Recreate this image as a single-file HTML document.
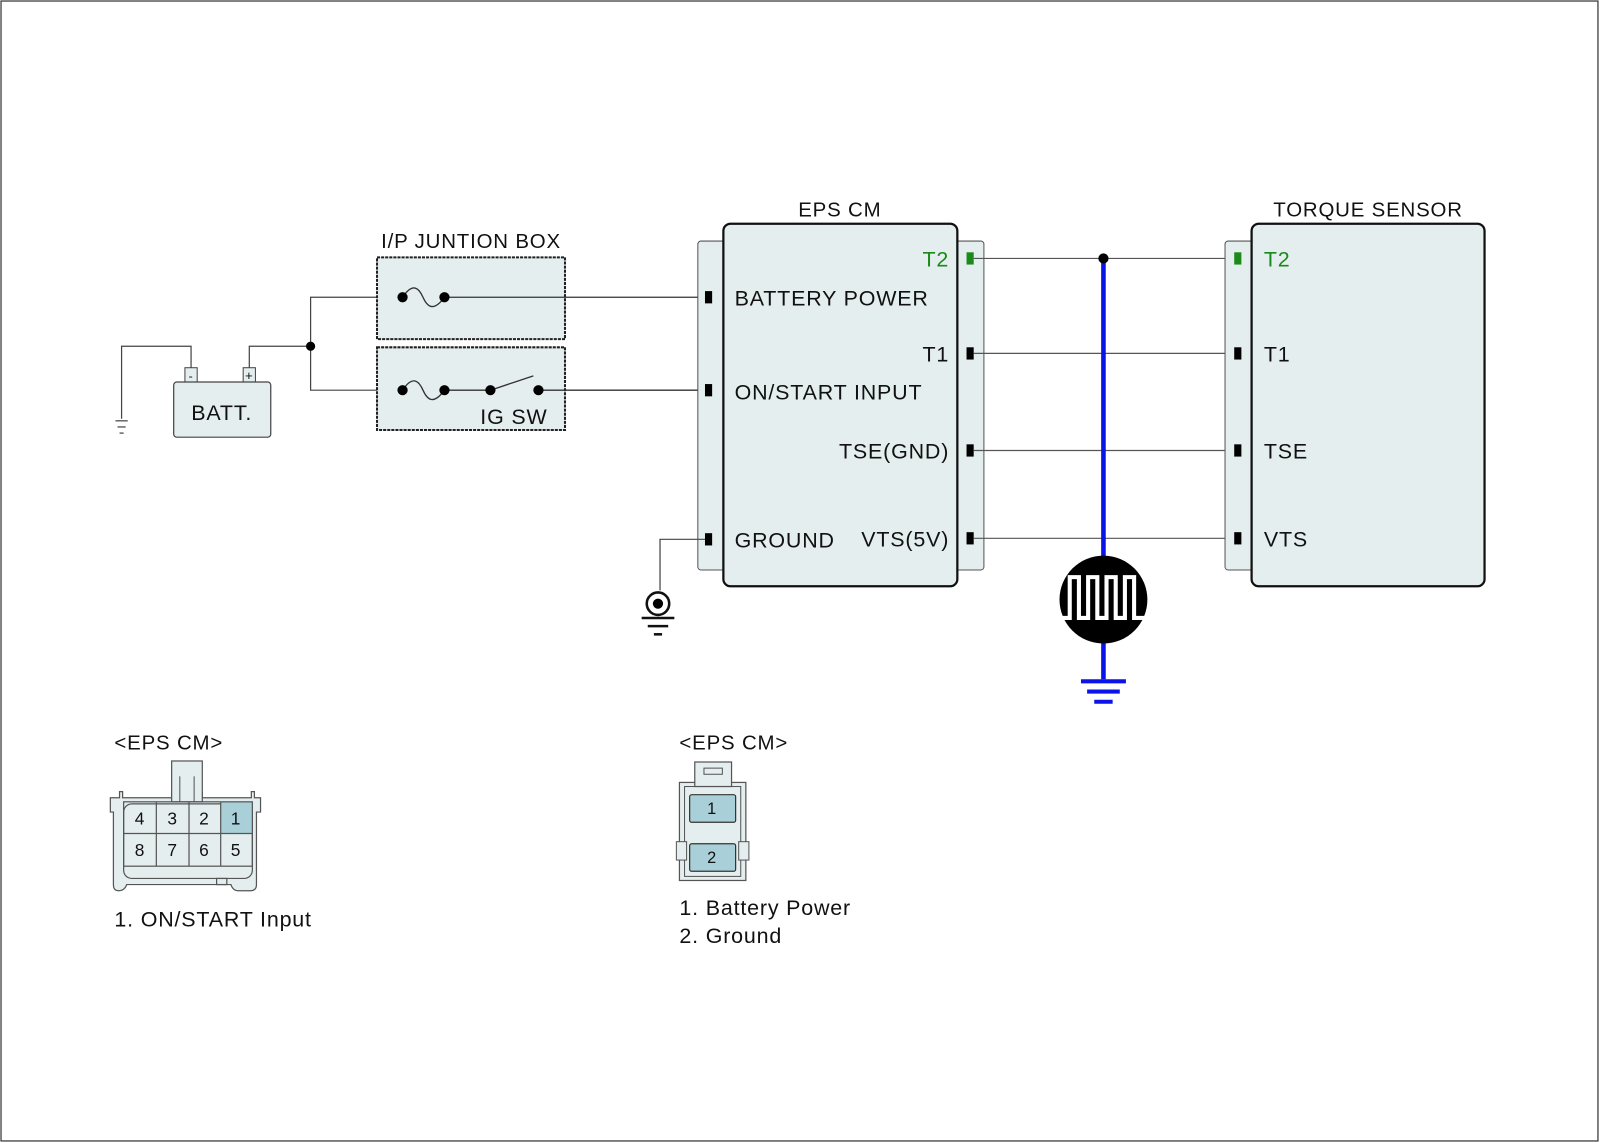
<!DOCTYPE html>
<html><head><meta charset="utf-8"><style>
html,body{margin:0;padding:0;background:#fff}
svg{display:block}
text{font-family:"Liberation Sans",Arial,sans-serif;fill:#111;letter-spacing:0.8px}
</style></head><body>
<svg width="1600" height="1143" viewBox="0 0 1566 1119" preserveAspectRatio="none" xmlns="http://www.w3.org/2000/svg">
<rect x="1" y="1" width="1563" height="1116" fill="#fff" stroke="#333" stroke-width="1.2"/>

<!-- Battery -->
<g stroke="#444" stroke-width="1.2" fill="none">
<path d="M187,360 V339 H119 V410"/>
<path d="M244,360 V339 H304"/>
<path d="M394,291 H304 V382 H394"/>
<line x1="113" y1="412" x2="125" y2="412"/>
<line x1="115" y1="418" x2="123" y2="418"/>
<line x1="117" y1="424" x2="121" y2="424"/>
</g>
<rect x="181" y="360" width="12" height="14" fill="#e4eeee" stroke="#444"/>
<rect x="238" y="360" width="12" height="14" fill="#e4eeee" stroke="#444"/>
<text x="187" y="372" font-size="12" text-anchor="middle">-</text>
<text x="244" y="372" font-size="13" text-anchor="middle">+</text>
<rect x="170" y="374" width="95" height="54" rx="3" fill="#e4eeee" stroke="#444" stroke-width="1.2"/>
<text x="217" y="411" font-size="21" text-anchor="middle">BATT.</text>
<circle cx="304" cy="339" r="4.5" fill="#000"/>

<!-- Junction box -->
<text x="461" y="243" font-size="20" text-anchor="middle">I/P JUNTION BOX</text>
<rect x="369" y="252" width="184" height="80" fill="#e4eeee" stroke="#222" stroke-width="2" stroke-dasharray="3,1"/>
<rect x="369" y="340" width="184" height="81" fill="#e4eeee" stroke="#222" stroke-width="2" stroke-dasharray="3,1"/>
<g stroke="#333" stroke-width="1.3" fill="none">
<path d="M394,291 C404,276 410,282 414,291 C418,300 424,306 435,291"/>
<line x1="435" y1="291" x2="690" y2="291"/>
<path d="M394,382 C404,367 410,373 414,382 C418,391 424,397 435,382"/>
<line x1="435" y1="382" x2="480" y2="382"/>
<line x1="480" y1="382" x2="522" y2="368"/>
<line x1="527" y1="382" x2="690" y2="382"/>
</g>
<g fill="#000">
<circle cx="394" cy="291" r="5"/><circle cx="435" cy="291" r="5"/>
<circle cx="394" cy="382" r="5"/><circle cx="435" cy="382" r="5"/>
<circle cx="480" cy="382" r="5"/><circle cx="527" cy="382" r="5"/>
</g>
<text x="503" y="415" font-size="21" text-anchor="middle">IG SW</text>

<!-- EPS CM -->
<text x="822" y="212" font-size="20" text-anchor="middle">EPS CM</text>
<rect x="683" y="236" width="280" height="322" rx="3" fill="#e4eeee" stroke="#555" stroke-width="1"/>
<rect x="708" y="219" width="229" height="355" rx="7" fill="#e4eeee" stroke="#111" stroke-width="2.2"/>
<g fill="#000">
<rect x="690" y="285" width="7" height="12"/>
<rect x="690" y="376" width="7" height="12"/>
<rect x="690" y="522" width="7" height="12"/>
<rect x="946" y="340" width="7" height="12"/>
<rect x="946" y="435" width="7" height="12"/>
<rect x="946" y="521" width="7" height="12"/>
</g>
<rect x="946" y="247" width="7" height="12" fill="#1a8a1a"/>
<g font-size="21">
<text x="719" y="299">BATTERY POWER</text>
<text x="719" y="391">ON/START INPUT</text>
<text x="719" y="536">GROUND</text>
<text x="929" y="261" text-anchor="end" style="fill:#1a8a1a">T2</text>
<text x="929" y="354" text-anchor="end">T1</text>
<text x="929" y="449" text-anchor="end">TSE(GND)</text>
<text x="929" y="535" text-anchor="end">VTS(5V)</text>
</g>

<!-- Ground left -->
<g stroke="#444" stroke-width="1.2" fill="none">
<path d="M690,528 H646 V578"/>
</g>
<circle cx="644" cy="591" r="11" fill="#fff" stroke="#111" stroke-width="2.5"/>
<circle cx="644" cy="591" r="5" fill="#000"/>
<g stroke="#111" stroke-width="2.5">
<line x1="628" y1="605" x2="660" y2="605"/>
<line x1="634" y1="613" x2="654" y2="613"/>
<line x1="640" y1="621" x2="648" y2="621"/>
</g>

<!-- wires -->
<g stroke="#555" stroke-width="1.2">
<line x1="953" y1="253" x2="1208" y2="253"/>
<line x1="953" y1="346" x2="1208" y2="346"/>
<line x1="953" y1="441" x2="1208" y2="441"/>
<line x1="953" y1="527" x2="1208" y2="527"/>
</g>
<line x1="1080" y1="253" x2="1080" y2="665" stroke="#0a14e6" stroke-width="4.5"/>
<circle cx="1080" cy="253" r="5" fill="#000"/>
<circle cx="1080" cy="587" r="43" fill="#000"/>
<path d="M1037,605 H1047 V565 H1056 V605 H1065 V565 H1074 V605 H1083 V565 H1092 V605 H1101 V565 H1110 V605 H1123" fill="none" stroke="#fff" stroke-width="4"/>
<g stroke="#0a14e6" stroke-width="4">
<line x1="1058" y1="667" x2="1102" y2="667"/>
<line x1="1064" y1="677" x2="1096" y2="677"/>
<line x1="1071" y1="687" x2="1089" y2="687"/>
</g>

<!-- Torque sensor -->
<text x="1339" y="212" font-size="20" text-anchor="middle">TORQUE SENSOR</text>
<rect x="1199" y="236" width="60" height="322" rx="3" fill="#e4eeee" stroke="#555" stroke-width="1"/>
<rect x="1225" y="219" width="228" height="355" rx="7" fill="#e4eeee" stroke="#111" stroke-width="2.2"/>
<rect x="1208" y="247" width="7" height="12" fill="#1a8a1a"/>
<g fill="#000">
<rect x="1208" y="340" width="7" height="12"/>
<rect x="1208" y="435" width="7" height="12"/>
<rect x="1208" y="521" width="7" height="12"/>
</g>
<g font-size="21">
<text x="1237" y="261" style="fill:#1a8a1a">T2</text>
<text x="1237" y="354">T1</text>
<text x="1237" y="449">TSE</text>
<text x="1237" y="535">VTS</text>
</g>

<!-- Connector 1 -->
<text x="112" y="734" font-size="20">&lt;EPS CM&gt;</text>
<path d="M117,780 V775 H120 V781 H168 V776 H198 V781 H246 V775 H249 V781 H255 V795 H251 V866 Q251,872 245,872 H233 Q228,872 226,866 H124 Q122,872 116,872 Q111,872 111,866 V795 H108 V781 H117 Z" fill="#e4eeee" stroke="#555" stroke-width="1.2"/>
<rect x="121" y="787" width="126" height="73" rx="8" fill="#e4eeee" stroke="#555" stroke-width="1.2"/>
<rect x="168" y="745" width="30" height="40" fill="#e4eeee" stroke="#555" stroke-width="1.2"/>
<line x1="176" y1="760" x2="176" y2="785" stroke="#555"/>
<line x1="190" y1="760" x2="190" y2="785" stroke="#555"/>
<rect x="216" y="785" width="31" height="31" fill="#a9d0d8"/>
<g stroke="#555" stroke-width="1.2" fill="none">
<rect x="121" y="785" width="126" height="63"/>
<line x1="121" y1="816" x2="247" y2="816"/>
<line x1="153" y1="785" x2="153" y2="848"/>
<line x1="185" y1="785" x2="185" y2="848"/>
<line x1="216" y1="785" x2="216" y2="848"/>
<rect x="212" y="860" width="10" height="6"/>
</g>
<g font-size="17" text-anchor="middle">
<text x="137" y="807">4</text><text x="169" y="807">3</text><text x="200" y="807">2</text><text x="231" y="807">1</text>
<text x="137" y="838">8</text><text x="169" y="838">7</text><text x="200" y="838">6</text><text x="231" y="838">5</text>
</g>
<text x="112" y="907" font-size="21">1. ON/START Input</text>

<!-- Connector 2 -->
<text x="665" y="734" font-size="20">&lt;EPS CM&gt;</text>
<rect x="665" y="766" width="65" height="96" fill="#e4eeee" stroke="#555" stroke-width="1.2"/>
<rect x="670" y="770" width="55" height="88" fill="#e4eeee" stroke="#555" stroke-width="1"/>
<rect x="680" y="746" width="36" height="24" fill="#e4eeee" stroke="#555" stroke-width="1.2"/>
<rect x="689" y="752" width="18" height="6" fill="#e4eeee" stroke="#555"/>
<rect x="662" y="824" width="10" height="18" fill="#e4eeee" stroke="#555"/>
<rect x="723" y="824" width="10" height="18" fill="#e4eeee" stroke="#555"/>
<rect x="675" y="778" width="45" height="27" rx="2" fill="#a9d0d8" stroke="#333" stroke-width="1.2"/>
<rect x="675" y="826" width="45" height="27" rx="2" fill="#a9d0d8" stroke="#333" stroke-width="1.2"/>
<text x="697" y="797" font-size="16" text-anchor="middle">1</text>
<text x="697" y="845" font-size="16" text-anchor="middle">2</text>
<text x="665" y="896" font-size="21">1. Battery Power</text>
<text x="665" y="923" font-size="21">2. Ground</text>
</svg>
</body></html>
